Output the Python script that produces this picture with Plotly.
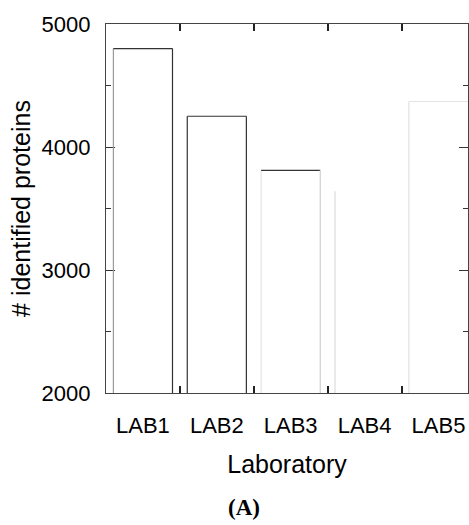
import plotly.graph_objects as go

labs = ["LAB1", "LAB2", "LAB3", "LAB4", "LAB5"]
proteins = [4800, 4250, 3810, 3640, 4370]
y_ticks = [2000, 3000, 4000, 5000]

# edge colours per bar (left, top, right); None = edge not visible
edge_styles = [
    ("#9a9a9a", "#333333", "#333333"),
    ("#333333", "#333333", "#333333"),
    ("#e4e4e4", "#333333", "#cfcfcf"),
    ("#dcdcdc", None, None),
    ("#e2e2e2", "#e4e4e4", None),
]
bar_width = 0.8
y_base = 2000

font_family = "Liberation Sans, Arial, Helvetica, sans-serif"

fig = go.Figure()
fig.add_trace(go.Bar(
    x=labs, y=proteins, width=bar_width,
    marker=dict(color="white", line=dict(width=0)),
    showlegend=False,
))

half = bar_width / 2
for i, (val, (lc, tc, rc)) in enumerate(zip(proteins, edge_styles)):
    if lc:
        fig.add_shape(type="line", xref="x", yref="y", x0=i - half, x1=i - half,
                      y0=y_base, y1=val, line=dict(color=lc, width=1.2))
    if tc:
        fig.add_shape(type="line", xref="x", yref="y", x0=i - half, x1=i + half,
                      y0=val, y1=val, line=dict(color=tc, width=1.2))
    if rc:
        fig.add_shape(type="line", xref="x", yref="y", x0=i + half, x1=i + half,
                      y0=y_base, y1=val, line=dict(color=rc, width=1.2))

fig.update_layout(
    width=469, height=525,
    margin=dict(l=106, r=1, t=24, b=132),
    plot_bgcolor="white", paper_bgcolor="white",
    font=dict(family=font_family, size=22, color="black"),
    bargap=0.2,
)
fig.update_xaxes(
    type="category", range=[-0.5, 4.4],
    tickson="boundaries", ticks="inside", ticklen=7, tickwidth=1.5, tickcolor="#222",
    showline=True, linecolor="#444", linewidth=1.2, mirror="ticks",
    showgrid=False, zeroline=False,
    tickfont=dict(size=22, family=font_family),
    ticklabelstandoff=12,
    title=dict(text="Laboratory", font=dict(size=25, family=font_family), standoff=18),
)
fig.update_yaxes(
    range=[2000, 5000], tickvals=y_ticks,
    ticks="inside", ticklen=9, tickwidth=1.2, tickcolor="#333",
    minor=dict(dtick=500, ticks="inside", ticklen=4.5, tickcolor="#333", tickwidth=1, showgrid=False),
    showline=True, linecolor="#444", linewidth=1.2, mirror="ticks",
    showgrid=False, zeroline=False,
    tickfont=dict(size=22, family=font_family),
    ticklabelstandoff=10,
    title=dict(text="# identified proteins", font=dict(size=25, family=font_family), standoff=3),
)
fig.add_annotation(
    text="<b>(A)</b>", xref="paper", yref="paper", x=0.38, y=-0.31,
    showarrow=False, xanchor="center", yanchor="middle",
    font=dict(family="Liberation Serif, Times New Roman, serif", size=23, color="black"),
)
fig.write_html("out.html")
